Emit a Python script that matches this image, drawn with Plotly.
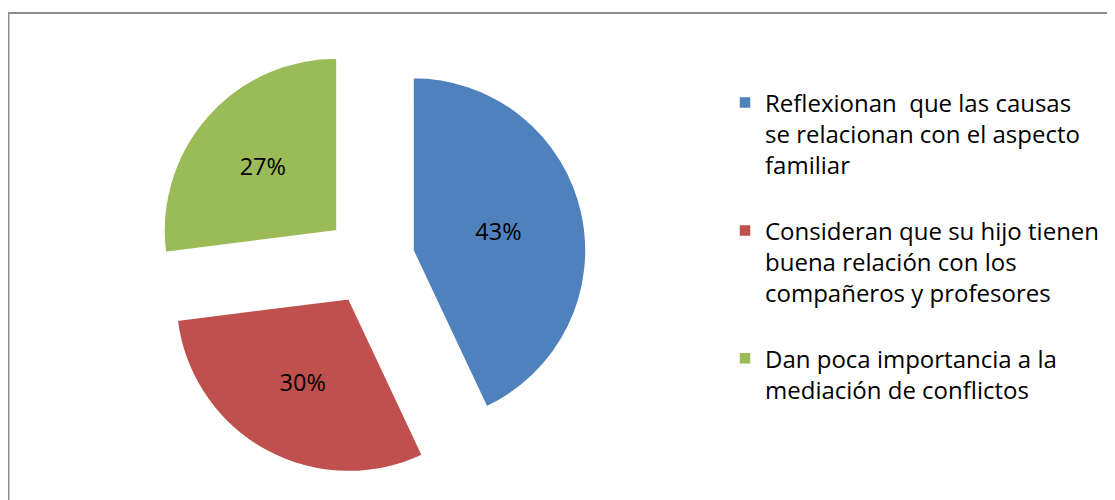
import plotly.graph_objects as go

labels = [
    "Reflexionan  que las causas<br>se relacionan con el aspecto<br>familiar<br> ",
    "Consideran que su hijo tienen<br>buena relación con los<br>compañeros y profesores<br> ",
    "Dan poca importancia a la<br>mediación de conflictos",
]
values = [43, 30, 27]
colors = ["#4F81BD", "#C0504D", "#9BBB59"]

# page body has an 8px margin; the figure is laid out in its own coordinates
W, H = 1107, 492
cx, cy = 362, 252
half = 217

fig = go.Figure(go.Pie(
    labels=labels,
    values=values,
    sort=False,
    direction="clockwise",
    rotation=0,
    pull=[0.255, 0.255, 0.255],
    marker=dict(colors=colors, line=dict(color="white", width=1.5)),
    textinfo="percent",
    texttemplate="%{percent:.0%}",
    textposition="inside",
    insidetextorientation="horizontal",
    textfont=dict(family="Open Sans", size=23.5, color="black"),
    insidetextfont=dict(family="Open Sans", size=23.5, color="black"),
    domain=dict(x=[(cx - half) / W, (cx + half) / W],
                y=[(H - cy - half) / H, (H - cy + half) / H]),
    hoverinfo="skip",
))

fig.update_layout(
    width=W, height=H,
    margin=dict(l=0, r=0, t=0, b=0),
    paper_bgcolor="white",
    plot_bgcolor="white",
    showlegend=True,
    legend=dict(
        x=717 / W, y=1 - 72.5 / H, xanchor="left", yanchor="top",
        font=dict(family="Open Sans", size=24, color="black"),
        valign="top",
        bgcolor="rgba(0,0,0,0)",
    ),
    shapes=[dict(type="rect", xref="paper", yref="paper",
                 x0=0.5 / W, x1=1.02, y0=-0.05, y1=1 - 5 / H,
                 line=dict(color="#8C8C8C", width=2))],
)

fig.write_html("out.html")
